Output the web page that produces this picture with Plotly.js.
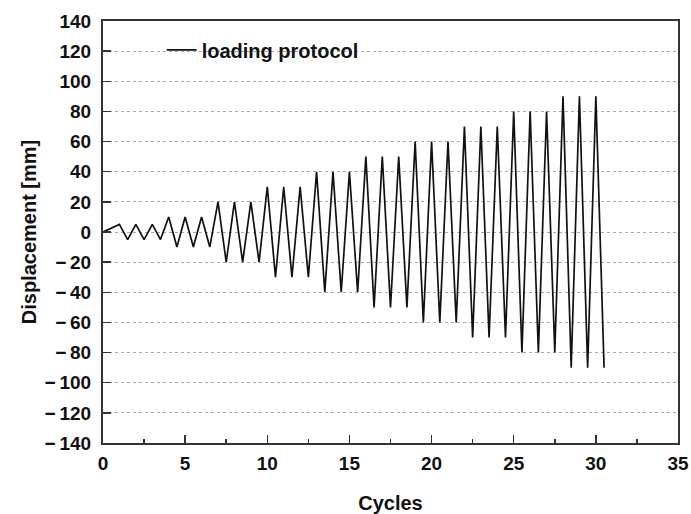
<!DOCTYPE html>
<html>
<head>
<meta charset="utf-8">
<script src="https://cdn.plot.ly/plotly-3.0.1.min.js"></script>
<style>html,body{margin:0;padding:0;background:#fff}#chart{width:691px;height:514px}</style>
</head>
<body>
<div id="chart"></div>
<script>
// Loading protocol: amplitude per cycle (3 cycles per level)
const cycleNumbers = [1,2,3,4,5,6,7,8,9,10,11,12,13,14,15,16,17,18,19,20,21,22,23,24,25,26,27,28,29,30];
const amplitudes   = [5,5,5,10,10,10,20,20,20,30,30,30,40,40,40,50,50,50,60,60,60,70,70,70,80,80,80,90,90,90];
const yTickVals = [-140,-120,-100,-80,-60,-40,-20,0,20,40,60,80,100,120,140];
const yTickText = ['\u2212\u2009140','\u2212\u2009120','\u2212\u2009100','\u2212\u200980','\u2212\u200960','\u2212\u200940','\u2212\u200920','0','20','40','60','80','100','120','140'];
const xTickVals = [0,5,10,15,20,25,30,35];
const xMinorTickVals = [2.5,7.5,12.5,17.5,22.5,27.5,32.5];

// Build the path: start at 0, peak at each integer cycle, trough half a cycle later
const xs = [0], ys = [0];
for (let i = 0; i < cycleNumbers.length; i++) {
  xs.push(cycleNumbers[i]);       ys.push(amplitudes[i]);
  xs.push(cycleNumbers[i] + 0.5); ys.push(-amplitudes[i]);
}

const font = {family: 'Liberation Sans, Arial, sans-serif', color: '#111', weight: 'bold'};
const f = (s) => Object.assign({}, font, {size: s});

const trace = {
  x: xs, y: ys, type: 'scatter', mode: 'lines',
  name: 'loading protocol',
  line: {color: '#111', width: 1.7}
};

const layout = {
  width: 691, height: 514,
  margin: {l: 103, r: 13, t: 21, b: 71},
  paper_bgcolor: '#fff', plot_bgcolor: '#fff',
  showlegend: true,
  legend: {x: 0.102, y: 0.978, xanchor: 'left', yanchor: 'top', bgcolor: 'rgba(0,0,0,0)',
           font: f(20), itemwidth: 30, tracegroupgap: 0},
  xaxis: {
    range: [0, 35], tickvals: xTickVals, ticks: 'inside', ticklen: 8, tickwidth: 1.5, tickcolor: '#333',
    showline: true, linecolor: '#333', linewidth: 2, mirror: true, showgrid: false, zeroline: false,
    minor: {tickvals: xMinorTickVals, ticks: 'inside', ticklen: 4, tickwidth: 1.5, tickcolor: '#333', showgrid: false},
    tickfont: f(19), ticklabelstandoff: 2,
    title: {text: 'Cycles', font: f(20), standoff: 24}
  },
  yaxis: {
    range: [-140, 140], tickvals: yTickVals, ticktext: yTickText, ticks: 'inside', ticklen: 8, tickwidth: 1.5, tickcolor: '#333',
    showline: true, linecolor: '#333', linewidth: 2, mirror: true,
    showgrid: true, gridcolor: '#aaa', gridwidth: 1, griddash: 'dot', zeroline: false,
    tickfont: f(19), ticklabelstandoff: 6,
    title: {text: 'Displacement [mm]', font: f(20), standoff: 3}
  }
};

Plotly.newPlot('chart', [trace], layout, {displayModeBar: false, staticPlot: true});
</script>
</body>
</html>
